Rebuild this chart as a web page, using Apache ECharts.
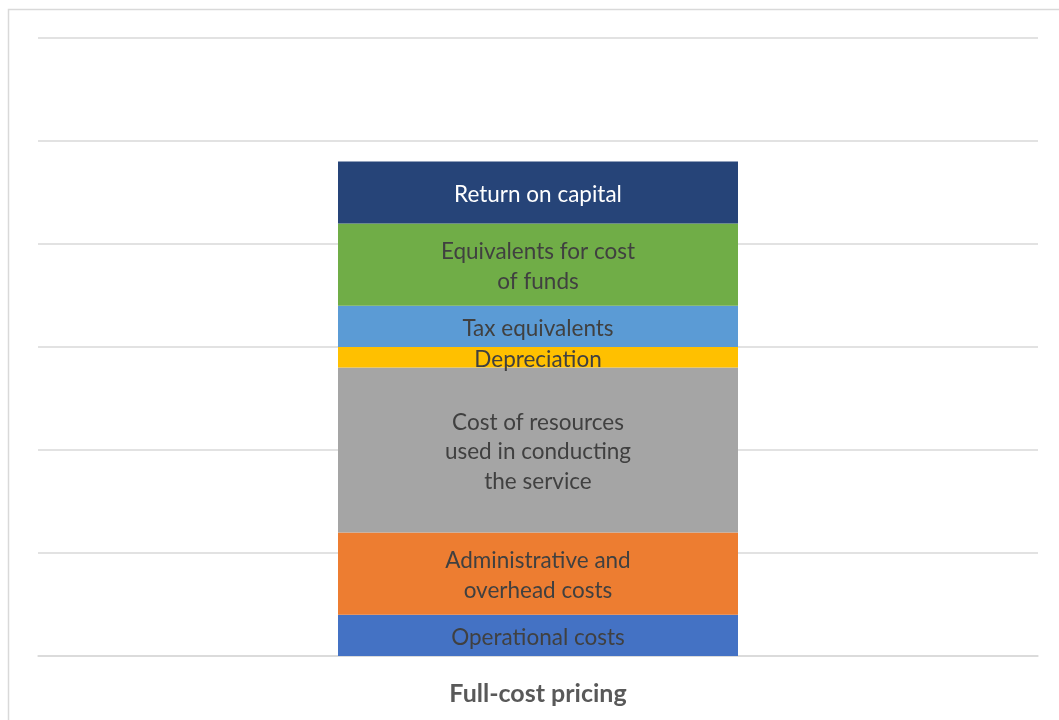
<!DOCTYPE html>
<html>
<head>
<meta charset="utf-8">
<script src="https://cdn.jsdelivr.net/npm/echarts@6/dist/echarts.min.js"></script>
<style>html,body{margin:0;padding:0;background:#fff;}#c{width:1059px;height:720px;}</style>
</head>
<body>
<div id="c"></div>
<script>
// Data (bottom to top)
var categories = ['Full-cost pricing'];
var seriesNames = ['Operational costs', 'Administrative and overhead costs', 'Cost of resources used in conducting the service', 'Depreciation', 'Tax equivalents', 'Equivalents for cost of funds', 'Return on capital'];
var labelTexts = ['Operational costs', 'Administrative and\noverhead costs', 'Cost of resources\nused in conducting\nthe service', 'Depreciation', 'Tax equivalents', 'Equivalents for cost\nof funds', 'Return on capital'];
var seriesValues = [0.4, 0.8, 1.6, 0.2, 0.4, 0.8, 0.6];
var colors = ['#4472C4', '#ED7D31', '#A5A5A5', '#FFC000', '#5B9BD5', '#70AD47', '#264478'];
var labelColors = ['#404040', '#404040', '#404040', '#404040', '#404040', '#404040', '#FFFFFF'];

var FONT = 'Lato, "Noto Sans", sans-serif';
var chart = echarts.init(document.getElementById('c'), null, {renderer: 'canvas'});
var series = seriesNames.map(function (n, i) {
  return {
    name: n,
    type: 'bar',
    stack: 'total',
    barWidth: 400,
    data: [seriesValues[i]],
    itemStyle: {color: colors[i]},
    label: {
      show: true,
      position: 'inside',
      offset: [0, 2],
      formatter: labelTexts[i],
      color: labelColors[i],
      fontFamily: FONT,
      fontSize: 22.5,
      lineHeight: 29.5
    },
    emphasis: {disabled: true}
  };
});
chart.setOption({
  animation: false,
  backgroundColor: '#fff',
  graphic: [{
    type: 'rect',
    shape: {x: 8.5, y: 9.5, width: 1100, height: 800},
    style: {fill: 'none', stroke: '#d9d9d9', lineWidth: 1.5},
    silent: true
  }],
  grid: {left: 38, right: 21, top: 38, bottom: 64, containLabel: false},
  xAxis: {
    type: 'category',
    data: categories,
    axisLine: {show: true, lineStyle: {color: '#d9d9d9', width: 1.5}},
    axisTick: {show: false},
    axisLabel: {
      color: '#595959',
      fontFamily: FONT,
      fontWeight: 'bold',
      fontSize: 25,
      lineHeight: 25,
      margin: 25
    }
  },
  yAxis: {
    type: 'value',
    min: 0,
    max: 6,
    interval: 1,
    axisLabel: {show: false},
    axisLine: {show: false},
    axisTick: {show: false},
    splitLine: {lineStyle: {color: '#d9d9d9', width: 1.5}}
  },
  series: series
});
</script>
</body>
</html>
